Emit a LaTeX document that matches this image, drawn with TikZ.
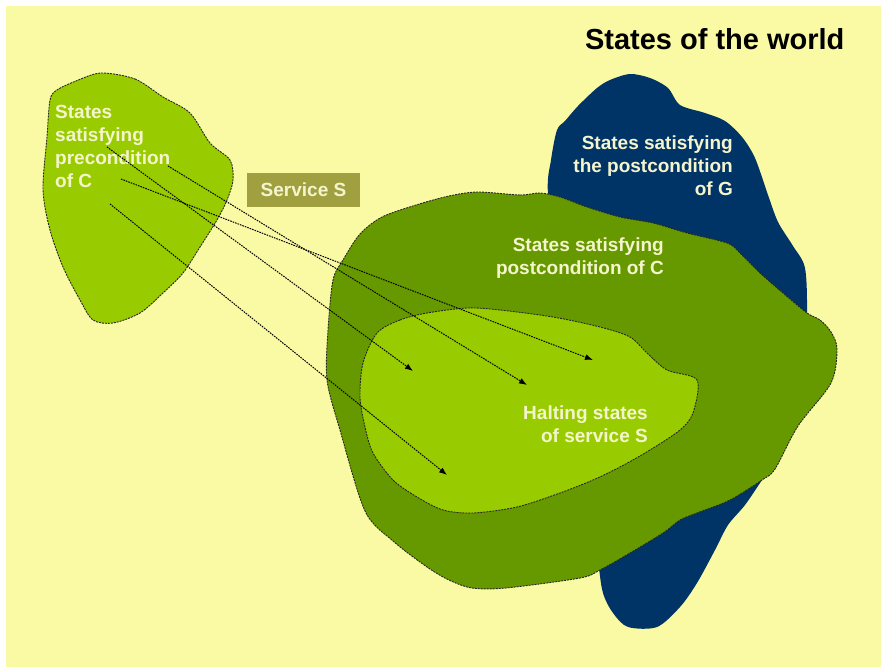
\documentclass[tikz,border=0pt]{standalone}
\usepackage{fontspec}
\setmainfont{Liberation Sans}
\usepackage{tikz}
\usetikzlibrary{arrows.meta, positioning}
\definecolor{worldyellow}{RGB}{250,250,165}
\definecolor{limegreen}{RGB}{153,204,0}
\definecolor{olivegreen}{RGB}{102,153,0}
\definecolor{goalnavy}{RGB}{0,51,102}
\definecolor{servicebox}{RGB}{160,160,64}
\definecolor{labelcream}{RGB}{245,245,205}

\begin{document}
\begin{tikzpicture}[
  x=1pt, y=-1pt,
  font=\fontsize{19}{23}\selectfont\bfseries,
  region/.style={draw=black!85, line width=0.9pt, dash pattern=on 2pt off 1pt},
  lbl/.style={text=labelcream, inner sep=0pt, align=right},
  arrow/.style={-{Latex[length=8pt,width=6pt]}, line width=1pt,
    dash pattern=on 1.6pt off 1pt}
]
\useasboundingbox (0,0) rectangle (881,668);
\fill[white] (0,0) rectangle (881,668);
\fill[worldyellow] (6,6) rectangle (881,667);

% postcondition of G
\fill[goalnavy] plot[smooth cycle, tension=0.5] coordinates {
  (610,80) (630,74) (650,78) (668,88) (680,105) (705,113) (725,121)
  (742,137) (755,158) (768,195) (778,222) (793,246) (805,268) (807,315)
  (804,380) (785,445) (762,480) (745,505) (728,525) (715,550) (697,583)
  (680,607) (657,627) (628,627) (613,613) (603,593) (598,560) (585,450)
  (560,300) (548,195) (551,160) (557,130) (565,121) (578,106) (597,88)};

% postcondition of C
\filldraw[region, fill=olivegreen] plot[smooth cycle, tension=0.5] coordinates {
  (478,192) (520,195) (540,193) (560,197) (587,207) (620,217) (653,223)
  (687,233) (727,243) (740,253) (760,273) (783,293) (807,313) (820,320)
  (831,332) (837,349) (831,383) (798,426) (775,469) (762,480) (730,500)
  (697,513) (680,520) (663,533) (630,553) (600,570) (580,578) (506,588)
  (472,588) (449,580) (427,567) (393,541) (365,511) (340,430) (327,380)
  (328,330) (333,280) (343,260) (360,234) (382,217) (416,205) (449,196)};

% halting states of S
\filldraw[region, fill=limegreen] plot[smooth cycle, tension=0.5] coordinates {
  (377,333) (400,320) (427,313) (467,308) (500,310) (553,317) (600,327)
  (630,337) (647,353) (667,370) (697,380) (693,413) (680,430) (650,450)
  (620,467) (593,480) (560,493) (517,507) (473,513) (443,510) (417,497)
  (393,480) (373,453) (365,427) (360,397) (363,363)};

% precondition of C
\filldraw[region, fill=limegreen] plot[smooth cycle, tension=0.5] coordinates {
  (101,73) (135,79) (163,97) (190,113) (210,143) (230,160) (233,180)
  (227,200) (217,220) (200,247) (183,273) (163,293) (140,313) (113,323)
  (93,320) (80,300) (63,267) (50,230) (43,190) (47,137) (50,100)
  (57,90) (76,81)};

\node[anchor=base east, font=\fontsize{29}{33}\selectfont\bfseries]
  (world) at (848,50) {States of the world};
\node[lbl, anchor=north east] (goalG) at (733,136)
  {States satisfying\\the postcondition\\of G};
\node[lbl, anchor=north east] (postC) at (664,238)
  {States satisfying\\postcondition of C};
\node[lbl, anchor=north east] (halt) at (648,406)
  {Halting states\\of service S};
\node[lbl, anchor=north west, align=left] (pre) at (55,105)
  {States\\satisfying\\precondition\\of C};
\node[fill=servicebox, text=labelcream, minimum width=113pt,
  minimum height=34pt, inner sep=0pt] (service) at (303.5,190) {Service S};

\coordinate (s1) at (107,147);
\coordinate (s2) at (121,179);
\coordinate (s3) at (110,204);
\coordinate (s4) at (168,166);
\coordinate (e1) at (593,360);
\coordinate (e2) at (527,385);
\coordinate (e3) at (413,371);
\coordinate (e4) at (447,475);

\draw[arrow] (s1) -- (e3);
\draw[arrow] (s2) -- (e1);
\draw[arrow] (s3) -- (e4);
\draw[arrow] (s4) -- (e2);
\end{tikzpicture}
\end{document}
